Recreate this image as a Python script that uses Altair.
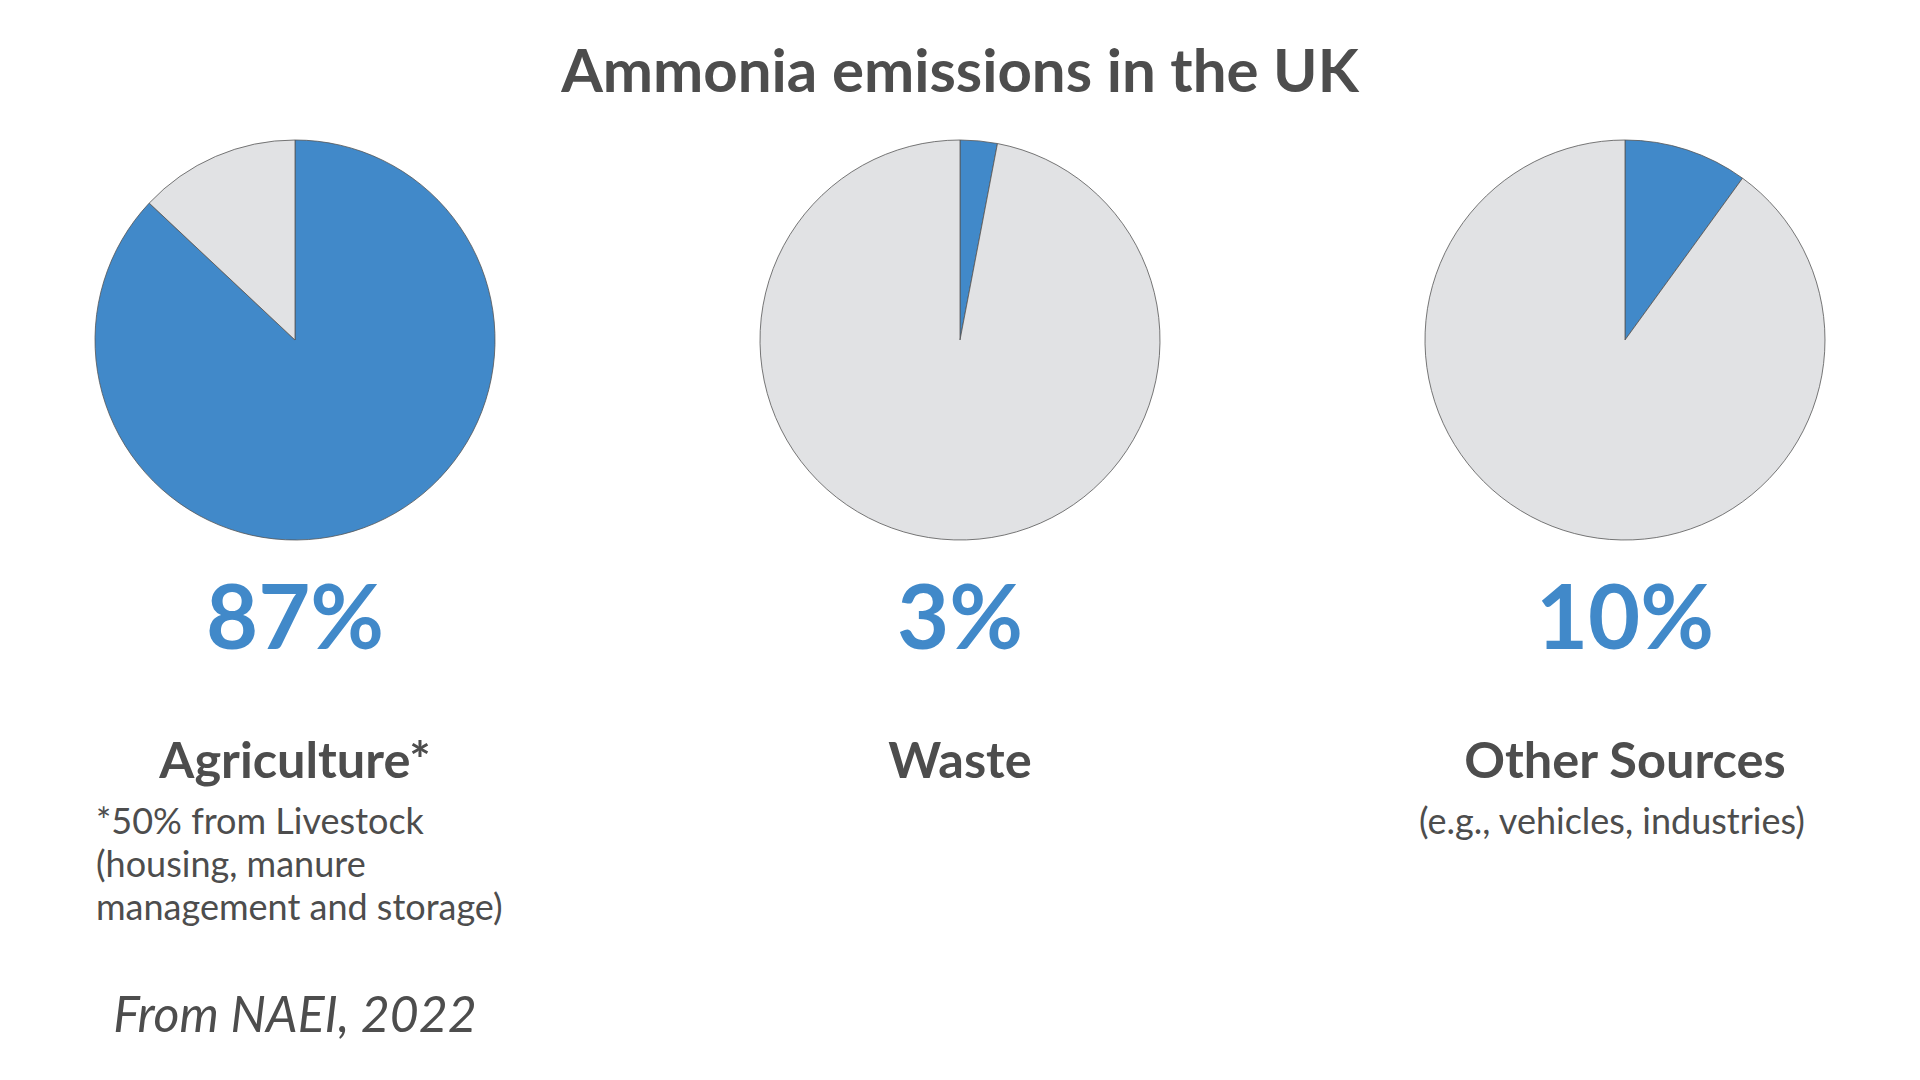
import altair as alt
import pandas as pd

# ---- data ----
categories = ["Agriculture*", "Waste", "Other Sources"]
shares = [87, 3, 10]
pct_labels = ["87%", "3%", "10%"]
notes = [
    "*50% from Livestock\n(housing, manure\nmanagement and storage)",
    "",
    "(e.g., vehicles, industries)",
]
title_text = "Ammonia emissions in the UK"
source_text = "From NAEI, 2022"

BLUE = "#4189C9"
GREY = "#E1E2E4"
TEXT = "#4D4D4D"
FONT = "Lato"

W, H = 1904, 1064

pie_rows = []
for c, s in zip(categories, shares):
    pie_rows.append({"category": c, "part": "share", "value": s, "order": 0})
    pie_rows.append({"category": c, "part": "rest", "value": 100 - s, "order": 1})
pie_df = pd.DataFrame(pie_rows)

text_df = pd.DataFrame({"category": categories, "pct": pct_labels, "note": notes})

xscale = alt.Scale(type="point", domain=categories, padding=0.4316)
X = alt.X("category:N", scale=xscale, axis=None)

pies = (
    alt.Chart(pie_df)
    .transform_window(
        end="sum(value)", groupby=["category"], sort=[alt.SortField("order")],
        frame=[None, 0],
    )
    .transform_calculate(start="datum.end - datum.value")
    .mark_arc(radius=200, stroke="#555555", strokeWidth=0.8)
    .encode(
        x=X,
        y=alt.value(332),
        theta=alt.Theta("start:Q", scale=alt.Scale(domain=[0, 100]), stack=None),
        theta2="end:Q",
        color=alt.Color(
            "part:N",
            scale=alt.Scale(domain=["share", "rest"], range=[BLUE, GREY]),
            legend=None,
        ),
    )
)

base_text = alt.Chart(text_df)

pct = base_text.mark_text(
    font=FONT, fontSize=90, fontWeight="bold", color=BLUE, baseline="alphabetic"
).encode(x=X, y=alt.value(641), text="pct:N")

cat = base_text.mark_text(
    font=FONT, fontSize=50.5, fontWeight="bold", color=TEXT, baseline="alphabetic"
).encode(x=X, y=alt.value(770), text="category:N")

note_agri = (
    base_text.transform_filter(alt.datum.category == categories[0])
    .mark_text(
        font=FONT, fontSize=36, color=TEXT, baseline="alphabetic", align="left",
        lineBreak="\n", lineHeight=43, dx=-199,
    )
    .encode(x=X, y=alt.value(826), text="note:N")
)

note_other = (
    base_text.transform_filter(alt.datum.category == categories[2])
    .mark_text(
        font=FONT, fontSize=36, color=TEXT, baseline="alphabetic", align="center",
        dx=-13,
    )
    .encode(x=X, y=alt.value(826), text="note:N")
)

title = (
    alt.Chart(pd.DataFrame({"t": [title_text]}))
    .mark_text(font=FONT, fontSize=60, fontWeight="bold", color=TEXT, baseline="alphabetic")
    .encode(x=alt.datum(categories[1], scale=xscale), y=alt.value(84), text="t:N")
)

source = (
    alt.Chart(pd.DataFrame({"t": [source_text]}))
    .mark_text(font=FONT, fontSize=50, fontStyle="italic", color=TEXT, baseline="alphabetic")
    .encode(x=alt.datum(categories[0], scale=xscale), y=alt.value(1024), text="t:N")
)

chart = (
    alt.layer(pies, pct, cat, note_agri, note_other, title, source)
    .properties(
        width=W, height=H, padding=0,
        autosize=alt.AutoSizeParams(type="fit", contains="padding"),
        background="white",
    )
    .configure_view(stroke=None)
)

chart.save("out.html", embed_options={"renderer": "svg", "actions": False})
